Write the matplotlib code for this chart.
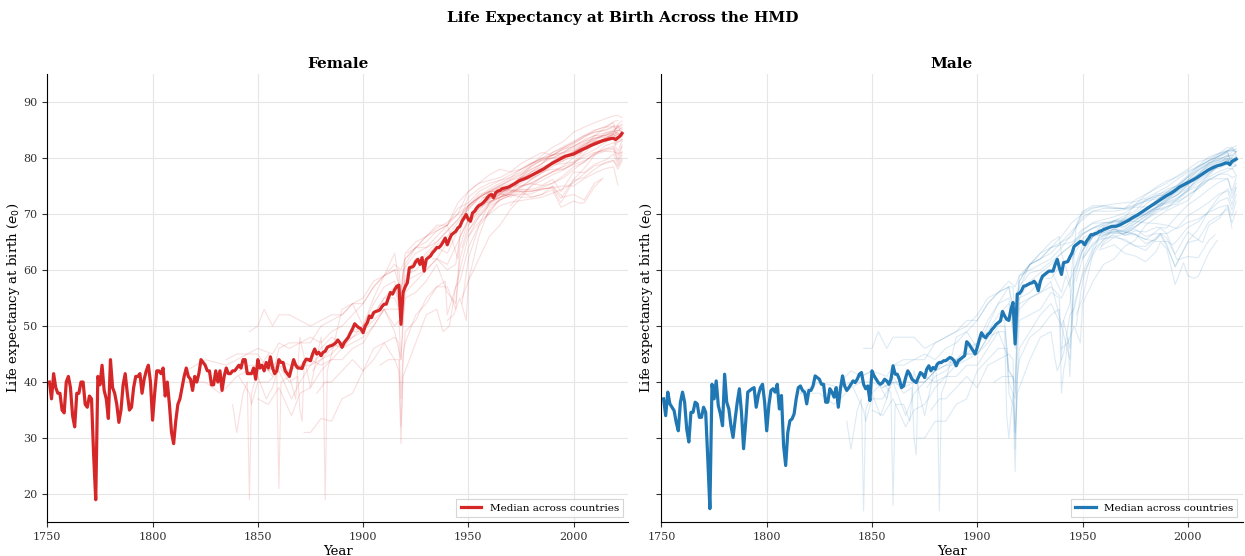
import matplotlib
matplotlib.use("Agg")
import matplotlib.pyplot as plt
import numpy as np

# --- median across countries ------------------------------------------------
female_median_years = list(range(1751, 1971)) + list(range(1972, 2019, 2)) + [2019, 2020, 2021, 2022, 2023]
female_median = [
    40, 37, 41.5, 39, 38, 38, 35, 34.5, 40, 41, 39, 34, 32, 38, 38, 40, 40, 36, 35.5, 37.5,
    37, 27, 19, 41, 39.5, 43, 38.5, 37, 33.5, 44, 39, 38, 36, 32.8, 35, 39.5, 41.5, 38, 35, 35.5,
    39, 41, 41, 41.5, 38, 40.5, 42, 43, 40, 33.2, 38, 42, 42, 41.5, 42.5, 37.5, 40, 36, 31, 29,
    33, 36, 37, 39, 41, 42.5, 41, 40.5, 38.5, 41, 40, 41.5, 44, 43.5, 43, 42, 42, 39.5, 39.5, 42,
    40, 42, 38.5, 41, 42.5, 41.5, 41.5, 42, 42, 42.5, 43, 42.5, 44, 44, 41.5, 41.5, 41.5, 42.5, 40.5, 44,
    42.5, 43, 42, 43.5, 42.5, 44.5, 42.5, 41.5, 42, 44, 43.5, 43.5, 42, 41.5, 41, 42.5, 44, 43, 42.5, 42.5,
    42.4, 43.5, 44.1, 44, 43.8, 45, 45.9, 45, 45.3, 44.7, 45.3, 45.5, 46.2, 46.4, 46.5, 46.7, 47, 47.5, 47, 46.2,
    47, 47.5, 48, 48.8, 49.5, 50.4, 50, 49.7, 49.5, 48.8, 50, 50.6, 51.8, 51.5, 52.4, 52.6, 52.7, 52.9, 53.5, 53.9,
    53.9, 55, 56, 55.7, 56.5, 57.1, 57.3, 50.3, 56, 57, 57.7, 60.4, 60.5, 60.7, 61.5, 61.9, 61, 62.2, 59.8, 61.9,
    62.2, 62.5, 63.1, 63.5, 64, 64, 64.4, 65, 65.7, 64.5, 65.5, 66.3, 66.6, 66.9, 67.5, 67.8, 68.7, 69.3, 69.9, 69,
    68.7, 70.2, 70.5, 71.1, 71.5, 71.7, 72, 72.4, 72.9, 73.3, 73.5, 72.9, 73.8, 74.1, 74.2, 74.5, 74.6, 74.7, 74.8, 75,
    75.4, 75.9, 76.2, 76.5, 76.9, 77.3, 77.7, 78.1, 78.6, 79.1, 79.5, 79.9, 80.3, 80.5, 80.7, 81.1, 81.5, 81.8, 82.2, 82.5,
    82.8, 83.1, 83.3, 83.5,
    83.5, 83.3, 83.6, 83.9, 84.4,
]

male_median_years = list(range(1751, 1961)) + list(range(1962, 2019, 2)) + [2019, 2020, 2021, 2022, 2023]
male_median = [
    37, 34, 38.2, 36.1, 35.5, 34.9, 32.8, 31.3, 36.4, 38.2, 36.4, 31.6, 29.3, 34.6, 34.6, 36.4, 36.1, 33.7, 33.7, 35.5,
    34.6, 26.3, 17.4, 39.6, 37, 40.2, 35.8, 34.3, 32.2, 41.4, 36.4, 35.2, 32.2, 30.1, 33.4, 36.4, 38.8, 34.6, 28.1, 32.8,
    38.2, 38.5, 38.8, 39, 35.5, 37.6, 39, 39.6, 36.4, 31.3, 35.8, 38.5, 38.8, 38.2, 39.6, 35.2, 37.6, 28.7, 25.1, 31,
    33.1, 33.4, 34.3, 37, 39, 39.3, 38.5, 38.2, 36.1, 38.5, 38.5, 39.3, 41.1, 40.8, 40.5, 39.6, 39.6, 36.4, 36.4, 38.8,
    38.2, 37.3, 39, 35.5, 38.8, 41.1, 39.3, 38.5, 39, 39.6, 40.2, 39.9, 40.5, 41.4, 41.7, 39.6, 38.8, 39.3, 36.7, 42,
    41.1, 40.5, 39.9, 39.6, 39.9, 40.5, 40.2, 39.6, 40.5, 42.9, 41.4, 41.4, 40.5, 39, 39.3, 40.8, 42, 41.4, 40.5, 40.2,
    39.9, 40.8, 41.7, 41.4, 40.8, 42.3, 42.9, 42, 42.6, 42.3, 43.2, 43.5, 43.5, 43.8, 43.8, 44.1, 44.4, 44.2, 43.8, 42.9,
    43.8, 44.1, 44.4, 44.7, 47.2, 46.8, 46.2, 45.6, 45, 46.2, 47.6, 48.8, 48.2, 47.9, 48.5, 48.8, 49.4, 49.8, 50.3, 50.6,
    50.9, 52.6, 51.8, 51.2, 51, 53, 54.2, 46.8, 55.7, 55.8, 56.3, 57.1, 57.2, 57.4, 57.6, 57.7, 58, 57.5, 56.3, 58,
    58.9, 59.2, 59.5, 59.8, 59.8, 59.8, 61, 61.9, 60.4, 59.2, 61.3, 61.4, 61.5, 62.3, 63, 64.2, 64.5, 64.8, 65.1, 65,
    64.5, 65.2, 65.7, 66.3, 66.3, 66.5, 66.6, 66.9, 67, 67.2,
    67.5, 67.8, 67.8, 68.1, 68.5, 68.9, 69.4, 69.8, 70.3, 70.8, 71.3, 71.8, 72.3, 72.8, 73.3, 73.7, 74.2, 74.8, 75.2, 75.6,
    76, 76.4, 76.9, 77.4, 77.9, 78.3, 78.6, 78.8, 79.1,
    79.1, 78.8, 79.4, 79.6, 79.8,
]

# --- individual countries, female (year: e0) --------------------------------
f_sweden = {1816: 42, 1825: 44, 1835: 43, 1840: 44, 1845: 45, 1850: 45, 1857: 41, 1860: 46, 1865: 47, 1870: 47, 1875: 47, 1880: 50, 1885: 51, 1890: 52, 1895: 54, 1900: 54, 1905: 57, 1910: 59, 1915: 60, 1917: 60, 1918: 56, 1919: 60, 1925: 63, 1930: 64, 1935: 66, 1940: 68, 1945: 71, 1950: 72, 1955: 74, 1960: 75, 1965: 76, 1970: 77, 1975: 78, 1980: 79, 1985: 80, 1990: 80.5, 1995: 81.6, 2000: 82, 2005: 83, 2010: 83.5, 2015: 84, 2019: 84.8, 2021: 84.9, 2023: 85}
f_france = {1816: 40, 1825: 40, 1832: 38, 1835: 39, 1840: 41, 1845: 42, 1850: 41, 1854: 37, 1857: 39, 1860: 43, 1865: 40, 1869: 41, 1870: 35, 1871: 33, 1872: 43, 1875: 44, 1880: 43, 1885: 44, 1890: 44, 1895: 46, 1900: 47, 1905: 50, 1910: 53, 1915: 50, 1917: 51, 1918: 44, 1919: 52, 1920: 55, 1925: 56, 1930: 58, 1935: 61, 1940: 56, 1944: 54, 1946: 64, 1950: 69, 1955: 72, 1960: 74, 1965: 75, 1970: 76, 1975: 77, 1980: 78, 1985: 79, 1990: 81, 1995: 82, 2000: 83, 2005: 84, 2010: 85, 2015: 85.5, 2019: 85.7, 2020: 85.2, 2021: 85.5, 2023: 85.8}
f_denmark = {1835: 44, 1840: 45, 1845: 45, 1850: 46, 1857: 45, 1860: 47, 1865: 46, 1870: 47, 1875: 48, 1880: 47, 1885: 49, 1890: 50, 1895: 52, 1900: 54, 1905: 57, 1910: 59, 1915: 61, 1918: 60, 1920: 62, 1925: 64, 1930: 64, 1935: 65, 1940: 67, 1945: 69, 1950: 71.5, 1955: 73.5, 1960: 74, 1965: 75, 1970: 76, 1975: 76.5, 1980: 77, 1985: 77.5, 1990: 78, 1995: 78, 2000: 79, 2005: 80.5, 2010: 81.5, 2015: 82.8, 2019: 83.5, 2021: 83.6, 2023: 83.8}
f_iceland = {1838: 36, 1840: 31, 1843: 38, 1845: 40, 1846: 19, 1847: 38, 1850: 42, 1855: 45, 1859: 42, 1860: 21, 1861: 40, 1865: 41, 1868: 37, 1870: 48, 1875: 39, 1880: 48, 1881: 44, 1882: 19, 1883: 42, 1885: 45, 1890: 53, 1895: 54, 1900: 50, 1905: 55, 1910: 59, 1915: 63, 1918: 55, 1920: 63, 1925: 65, 1930: 66, 1935: 67, 1940: 68, 1945: 72, 1950: 74, 1955: 75.5, 1960: 77, 1965: 78, 1970: 77.5, 1975: 79, 1980: 80, 1985: 81, 1990: 80.5, 1995: 81, 2000: 82.2, 2005: 83, 2010: 84, 2015: 84, 2019: 84.5, 2021: 85.9, 2023: 84}
f_norway = {1846: 49, 1850: 50, 1853: 53, 1857: 50, 1860: 52, 1865: 52, 1870: 51, 1875: 50, 1880: 51, 1885: 52, 1890: 52, 1895: 54, 1900: 55, 1905: 58, 1910: 59, 1915: 60, 1918: 56, 1920: 62, 1925: 64, 1930: 65, 1935: 67, 1940: 68, 1945: 70, 1950: 74, 1955: 75.5, 1960: 76, 1965: 76.5, 1970: 77.5, 1975: 78, 1980: 79.2, 1985: 79.8, 1990: 80, 1995: 80.8, 2000: 81.4, 2005: 82.5, 2010: 83.2, 2015: 84.2, 2019: 84.7, 2021: 85, 2023: 84.6}
f_belgium = {1841: 41, 1846: 38, 1847: 36, 1850: 40, 1855: 40, 1860: 42, 1866: 37, 1870: 40, 1875: 43, 1880: 44, 1885: 46, 1890: 47, 1895: 48, 1900: 49, 1905: 51, 1910: 53, 1915: 49, 1918: 44, 1920: 56, 1925: 58, 1930: 60, 1935: 62, 1940: 60, 1944: 61, 1946: 66, 1950: 69, 1955: 71.5, 1960: 73.5, 1965: 74, 1970: 74.5, 1975: 75.5, 1980: 76.8, 1985: 78, 1990: 79.5, 1995: 80.5, 2000: 81, 2005: 82, 2010: 83, 2015: 83.3, 2019: 84.3, 2020: 82.5, 2021: 83.8, 2023: 84}
f_england = {1841: 42, 1846: 43, 1850: 43, 1855: 42, 1860: 43, 1865: 42, 1870: 43, 1875: 44, 1880: 46, 1885: 48, 1890: 47, 1895: 49, 1900: 49, 1905: 52, 1910: 55, 1915: 55, 1918: 52, 1920: 59, 1925: 60, 1930: 62, 1935: 64, 1940: 63, 1945: 67, 1950: 71.5, 1955: 73, 1960: 74, 1965: 74.8, 1970: 75.5, 1975: 76.3, 1980: 77, 1985: 78, 1990: 79, 1995: 79.5, 2000: 80.3, 2005: 81.5, 2010: 82.6, 2015: 83, 2019: 83.5, 2020: 82.3, 2021: 82.9, 2023: 83.2}
f_netherlands = {1850: 37, 1855: 36, 1860: 39, 1866: 34, 1870: 38, 1875: 39, 1880: 42, 1885: 44, 1890: 46, 1895: 48, 1900: 50, 1905: 54, 1910: 57, 1915: 58, 1918: 52, 1920: 61, 1925: 64, 1930: 66, 1935: 68, 1940: 68, 1945: 62, 1947: 70, 1950: 73, 1955: 74.5, 1960: 75.5, 1965: 76, 1970: 76.5, 1975: 77.5, 1980: 79, 1985: 79.5, 1990: 80, 1995: 80.3, 2000: 80.6, 2005: 81.5, 2010: 83, 2015: 83.2, 2019: 83.6, 2021: 82.8, 2023: 83.3}
f_scotland = {1855: 42, 1860: 44, 1865: 43, 1870: 43, 1875: 43, 1880: 45, 1885: 47, 1890: 46, 1895: 47, 1900: 48, 1905: 50, 1910: 53, 1915: 53, 1918: 53, 1920: 58, 1925: 59, 1930: 60, 1935: 62, 1940: 61, 1945: 65, 1950: 69, 1955: 71, 1960: 72, 1965: 73, 1970: 74, 1975: 75, 1980: 75.5, 1985: 76.5, 1990: 77.5, 1995: 78, 2000: 78.8, 2005: 79.5, 2010: 80.6, 2015: 81.2, 2019: 81.1, 2021: 80.8, 2023: 81}
f_italy = {1872: 31, 1875: 31, 1880: 33.5, 1885: 33, 1890: 37, 1895: 38, 1900: 42, 1905: 44, 1910: 47, 1915: 44, 1917: 42, 1918: 29, 1919: 44, 1920: 49, 1925: 51, 1930: 55, 1935: 57, 1940: 57, 1944: 53, 1946: 62, 1950: 67, 1955: 70, 1960: 72, 1965: 73.5, 1970: 75, 1975: 76, 1980: 77.5, 1985: 79, 1990: 80.5, 1995: 81.5, 2000: 82.5, 2005: 83.8, 2010: 84.6, 2015: 84.9, 2019: 85.5, 2020: 84.4, 2021: 84.9, 2023: 85.4}
f_switzerland = {1876: 42, 1880: 44, 1885: 45, 1890: 47, 1895: 49, 1900: 50, 1905: 52, 1910: 55, 1915: 57, 1918: 52, 1920: 58, 1925: 61, 1930: 63, 1935: 65, 1940: 67, 1945: 69, 1950: 71.5, 1955: 73, 1960: 74.5, 1965: 75.5, 1970: 76.5, 1975: 78, 1980: 79, 1985: 80, 1990: 81, 1995: 81.8, 2000: 82.8, 2005: 84, 2010: 84.6, 2015: 85, 2019: 85.7, 2021: 85.6, 2023: 86}
f_finland = {1878: 38, 1882: 40, 1885: 40, 1890: 42, 1895: 44, 1900: 42, 1905: 46, 1910: 47, 1915: 48, 1917: 47, 1918: 37, 1919: 45, 1920: 47, 1925: 52, 1930: 54, 1935: 57, 1939: 58, 1940: 52, 1944: 57, 1946: 60, 1950: 66, 1955: 69.5, 1960: 71.5, 1965: 72.5, 1970: 73.8, 1975: 76, 1980: 77.6, 1985: 78.5, 1990: 79, 1995: 80, 2000: 81, 2005: 82.4, 2010: 83.2, 2015: 84.4, 2019: 84.8, 2021: 84.5, 2023: 84}
f_spain = {1908: 43, 1912: 44, 1917: 44, 1918: 32, 1919: 41, 1920: 42, 1925: 47, 1930: 52, 1935: 53, 1938: 49, 1941: 50, 1944: 57, 1946: 58, 1950: 64, 1955: 68, 1960: 72, 1965: 73.5, 1970: 75, 1975: 76.5, 1980: 78.5, 1985: 79.8, 1990: 80.5, 1995: 81.8, 2000: 82.7, 2005: 83.7, 2010: 84.9, 2015: 85.6, 2019: 86.3, 2020: 85.1, 2021: 86, 2023: 86.6}
f_australia = {1921: 63, 1925: 64, 1930: 66, 1935: 67.5, 1940: 68.5, 1945: 70, 1950: 71.5, 1955: 73, 1960: 74, 1965: 74, 1970: 74.5, 1975: 76.5, 1980: 78, 1985: 79, 1990: 80, 1995: 81, 2000: 82, 2005: 83.3, 2010: 84, 2015: 84.5, 2019: 85, 2021: 85.4, 2023: 85.3}
f_canada = {1921: 60, 1925: 62, 1930: 62.5, 1935: 64.5, 1940: 66, 1945: 68.5, 1950: 70.8, 1955: 72.8, 1960: 74.2, 1965: 75.2, 1970: 76.2, 1975: 77.2, 1980: 78.5, 1985: 79.6, 1990: 80.5, 1995: 80.9, 2000: 81.7, 2005: 82.7, 2010: 83.6, 2015: 84, 2019: 84.5, 2021: 84.2, 2023: 84.4}
f_usa = {1933: 62, 1935: 62, 1940: 65, 1945: 67.5, 1950: 71, 1955: 72.8, 1960: 73.2, 1965: 73.8, 1970: 74.7, 1975: 76.5, 1980: 77.5, 1985: 78.2, 1990: 78.8, 1995: 79, 2000: 79.3, 2005: 80.1, 2010: 81, 2015: 81.3, 2019: 81.6, 2021: 79.3, 2023: 81.1}
f_japan = {1947: 54, 1950: 62, 1955: 67.8, 1960: 70.2, 1965: 72.9, 1970: 74.7, 1975: 76.9, 1980: 78.8, 1985: 80.5, 1990: 81.9, 1995: 82.9, 2000: 84.6, 2005: 85.5, 2010: 86.3, 2015: 87, 2019: 87.5, 2021: 87.6, 2023: 87.2}
f_portugal = {1940: 51, 1943: 52, 1946: 55, 1949: 51, 1950: 58, 1955: 62, 1960: 66, 1965: 68, 1970: 70.8, 1975: 72.9, 1980: 75.2, 1985: 76.6, 1990: 77.5, 1995: 78.6, 2000: 80, 2005: 81.4, 2010: 82.8, 2015: 83.3, 2019: 84.1, 2021: 83.7, 2023: 84}
f_russia = {1959: 72, 1965: 73, 1970: 73.5, 1975: 73, 1980: 73, 1985: 73.5, 1990: 74.3, 1994: 71.2, 2000: 72.3, 2003: 71.9, 2005: 72, 2010: 74.9, 2014: 76.4}
f_ukraine = {1959: 72.5, 1965: 73.5, 1970: 74, 1975: 74, 1980: 73, 1985: 73.5, 1990: 75, 1995: 73, 2000: 73.5, 2005: 72.5, 2010: 75.5, 2013: 76.2}
f_hungary = {1950: 66, 1955: 68.5, 1960: 70, 1965: 71.5, 1970: 72.1, 1975: 72.4, 1980: 72.7, 1985: 73, 1990: 73.7, 1995: 74.5, 2000: 75.6, 2005: 77.2, 2010: 78.6, 2015: 79, 2019: 79.5, 2021: 78.5, 2023: 79.8}
f_bulgaria = {1947: 55, 1950: 58, 1955: 66, 1960: 71, 1965: 72.5, 1970: 73.3, 1975: 73.5, 1980: 73.6, 1985: 74.5, 1990: 74.7, 1995: 75, 2000: 75, 2005: 76.3, 2010: 77.3, 2015: 78.1, 2019: 78.4, 2021: 75.2}
f_taiwan = {1970: 71.5, 1975: 73.5, 1980: 75, 1985: 76, 1990: 77, 1995: 77.8, 2000: 79, 2005: 80.8, 2010: 82.5, 2015: 83.6, 2019: 84.2, 2021: 84.3, 2023: 83.8}
f_korea = {2003: 80.8, 2005: 81.9, 2010: 84, 2015: 85.4, 2019: 86.5, 2021: 86.7}
f_latvia = {1959: 72.5, 1965: 74, 1970: 74.3, 1975: 74, 1980: 74, 1985: 74.5, 1990: 74.6, 1994: 72, 2000: 76, 2005: 76.5, 2010: 78, 2015: 79.2, 2019: 79.6, 2021: 78, 2023: 79.5}
f_czechia = {1950: 68, 1955: 71, 1960: 73.3, 1965: 73.7, 1970: 73, 1975: 74, 1980: 74, 1985: 74.7, 1990: 75.5, 1995: 76.8, 2000: 78.4, 2005: 79.2, 2010: 80.9, 2015: 81.6, 2019: 82.1, 2021: 80.5, 2023: 82.3}
f_poland = {1958: 69.5, 1960: 70.5, 1965: 72.5, 1970: 73.3, 1975: 74.4, 1980: 74.4, 1985: 75, 1990: 75.5, 1995: 76.4, 2000: 77.9, 2005: 79.3, 2010: 80.7, 2015: 81.6, 2019: 81.8, 2021: 79.7, 2023: 82}
f_austria = {1947: 64, 1950: 68, 1955: 70.5, 1960: 72.8, 1965: 73.4, 1970: 73.5, 1975: 75, 1980: 76.1, 1985: 77.4, 1990: 79, 1995: 80.1, 2000: 81.2, 2005: 82.3, 2010: 83.5, 2015: 83.7, 2019: 84.2, 2021: 83.8, 2023: 84.2}
f_newzealand = {1948: 70, 1950: 71.3, 1955: 73, 1960: 73.9, 1965: 74.3, 1970: 74.8, 1975: 76, 1980: 76.3, 1985: 77.3, 1990: 78.5, 1995: 79.5, 2000: 81, 2005: 82.1, 2010: 82.8, 2015: 83.5, 2019: 83.7, 2021: 84.3}
f_lithuania = {1959: 73.5, 1965: 74.7, 1970: 75, 1975: 75, 1980: 75.4, 1985: 75.1, 1990: 76.2, 1994: 74, 2000: 77.5, 2005: 77.4, 2010: 78.9, 2015: 79.6, 2019: 80.7, 2021: 78.8, 2023: 80.5}
f_ireland = {1950: 67, 1955: 69.5, 1960: 71.8, 1965: 73, 1970: 73.8, 1975: 74.8, 1980: 75.6, 1985: 76.6, 1990: 77.6, 1995: 78.4, 2000: 79.2, 2005: 81.5, 2010: 82.8, 2015: 83.5, 2019: 84.4, 2021: 84.6}
f_germany = {1956: 71.5, 1960: 72.3, 1965: 73, 1970: 73.6, 1975: 74.7, 1980: 76.3, 1985: 77.7, 1990: 78.9, 1995: 79.9, 2000: 81.2, 2005: 82, 2010: 82.8, 2015: 83, 2019: 83.6, 2021: 83.3, 2023: 83.4}
f_estonia = {1959: 72.3, 1965: 73.8, 1970: 74.2, 1975: 74.3, 1980: 74.2, 1985: 74.3, 1990: 74.9, 1994: 72.8, 2000: 76.2, 2005: 78.1, 2010: 80.5, 2015: 82.2, 2019: 82.7, 2021: 81.2, 2023: 83}

# --- individual countries, male (year: e0) ----------------------------------
m_sweden = {1816: 38, 1825: 40, 1835: 39, 1840: 40, 1845: 41, 1850: 42, 1857: 37, 1860: 43, 1865: 44, 1870: 44, 1875: 44, 1880: 47, 1885: 48, 1890: 49, 1895: 51, 1900: 51, 1905: 54, 1910: 56, 1915: 57, 1917: 57, 1918: 50, 1919: 56, 1925: 61, 1930: 62, 1935: 64, 1940: 66, 1945: 68.5, 1950: 70, 1955: 71, 1960: 71.5, 1965: 71.8, 1970: 72, 1975: 72.2, 1980: 72.8, 1985: 73.8, 1990: 74.8, 1995: 76.2, 2000: 77.4, 2005: 78.4, 2010: 79.5, 2015: 80.4, 2019: 81.3, 2021: 81.2, 2023: 81.7}
m_france = {1816: 38, 1825: 38, 1832: 36, 1835: 37, 1840: 39, 1845: 40, 1850: 38, 1854: 34, 1857: 37, 1860: 41, 1865: 38, 1869: 39, 1870: 30, 1871: 27, 1872: 41, 1875: 41, 1880: 40, 1885: 41, 1890: 41, 1895: 43, 1900: 43, 1905: 46, 1910: 49, 1913: 49, 1914: 34, 1915: 30, 1917: 38, 1918: 31, 1919: 44, 1920: 51, 1925: 52, 1930: 53, 1935: 56, 1939: 55, 1940: 44, 1941: 51, 1944: 46, 1946: 59, 1950: 63.5, 1955: 66, 1960: 67, 1965: 68, 1970: 68.6, 1975: 69.2, 1980: 70.3, 1985: 71.3, 1990: 72.8, 1995: 73.8, 2000: 75.3, 2005: 76.8, 2010: 78.2, 2015: 79.3, 2019: 79.9, 2020: 79.2, 2021: 79.5, 2023: 80.2}
m_denmark = {1835: 40, 1840: 42, 1845: 41, 1850: 42, 1857: 41, 1860: 43, 1865: 43, 1870: 44, 1875: 45, 1880: 44, 1885: 46, 1890: 47, 1895: 49, 1900: 51, 1905: 54, 1910: 56, 1915: 58, 1918: 57, 1920: 59, 1925: 61, 1930: 62, 1935: 63, 1940: 65, 1945: 67, 1950: 69, 1955: 70.5, 1960: 70.5, 1965: 70.5, 1970: 70.8, 1975: 71.2, 1980: 71.3, 1985: 71.6, 1990: 72, 1995: 72.6, 2000: 74.5, 2005: 76, 2010: 77.2, 2015: 78.8, 2019: 79.6, 2021: 79.6, 2023: 80}
m_iceland = {1838: 33, 1840: 28, 1843: 35, 1845: 37, 1846: 17, 1847: 35, 1850: 38, 1855: 40, 1859: 38, 1860: 18, 1861: 36, 1865: 36, 1868: 33, 1870: 42, 1875: 34, 1880: 43, 1881: 40, 1882: 17, 1883: 38, 1885: 40, 1890: 48, 1895: 49, 1900: 46, 1905: 50, 1910: 54, 1915: 57, 1918: 52, 1920: 59, 1925: 60, 1930: 61, 1935: 62, 1940: 64, 1945: 66.5, 1950: 69.5, 1955: 70.5, 1960: 71, 1965: 71, 1970: 71, 1975: 72.5, 1980: 73.5, 1985: 74.5, 1990: 75.5, 1995: 76.8, 2000: 78, 2005: 79.3, 2010: 79.9, 2015: 80.8, 2019: 81.3, 2021: 82, 2023: 80.5}
m_norway = {1846: 46, 1850: 46, 1853: 49, 1857: 46, 1860: 48, 1865: 48, 1870: 48, 1875: 46, 1880: 47, 1885: 48, 1890: 49, 1895: 50, 1900: 52, 1905: 55, 1910: 56, 1915: 57, 1918: 50, 1920: 58, 1925: 61, 1930: 62, 1935: 64, 1940: 65, 1945: 66, 1950: 70.3, 1955: 71.2, 1960: 71.3, 1965: 71, 1970: 71, 1975: 71.7, 1980: 72.3, 1985: 72.7, 1990: 73.4, 1995: 74.9, 2000: 76, 2005: 77.7, 2010: 78.9, 2015: 80.5, 2019: 81.2, 2021: 81.6, 2023: 81.4}
m_belgium = {1841: 39, 1846: 35, 1847: 33, 1850: 37, 1855: 37, 1860: 40, 1866: 34, 1870: 38, 1875: 40, 1880: 42, 1885: 43, 1890: 44, 1895: 45, 1900: 45, 1905: 48, 1910: 49, 1914: 45, 1915: 40, 1918: 37, 1919: 48, 1920: 53, 1925: 55, 1930: 56, 1935: 58, 1940: 50, 1944: 54, 1946: 60, 1950: 63.5, 1955: 66, 1960: 67.5, 1965: 67.8, 1970: 67.8, 1975: 68.8, 1980: 70, 1985: 71.2, 1990: 72.7, 1995: 73.4, 2000: 74.6, 2005: 76.2, 2010: 77.4, 2015: 78.7, 2019: 79.8, 2020: 78.5, 2021: 79.2, 2023: 80}
m_england = {1841: 40, 1846: 40, 1850: 40, 1855: 39, 1860: 40, 1865: 39, 1870: 40, 1875: 40, 1880: 42, 1885: 44, 1890: 43, 1895: 45, 1900: 45, 1905: 48, 1910: 51, 1913: 51, 1915: 42, 1917: 41, 1918: 38, 1919: 50, 1920: 55, 1925: 56, 1930: 58, 1935: 60, 1940: 56, 1942: 59, 1944: 57, 1946: 64, 1950: 66.5, 1955: 67.5, 1960: 68.3, 1965: 68.7, 1970: 69, 1975: 69.6, 1980: 70.8, 1985: 71.8, 1990: 73, 1995: 74, 2000: 75.6, 2005: 77.1, 2010: 78.6, 2015: 79.3, 2019: 79.8, 2020: 78.6, 2021: 79.1, 2023: 79.4}
m_netherlands = {1850: 35, 1855: 34, 1860: 37, 1866: 32, 1870: 35, 1875: 36, 1880: 39, 1885: 41, 1890: 43, 1895: 45, 1900: 47, 1905: 51, 1910: 54, 1915: 55, 1918: 48, 1920: 58, 1925: 61, 1930: 63, 1935: 65, 1939: 66, 1940: 63, 1944: 58, 1945: 50, 1946: 63, 1947: 68, 1950: 70.5, 1955: 71.5, 1960: 71.5, 1965: 71.2, 1970: 70.9, 1975: 71.5, 1980: 72.6, 1985: 73, 1990: 73.8, 1995: 74.5, 2000: 75.5, 2005: 77.2, 2010: 78.8, 2015: 79.8, 2019: 80.5, 2021: 79.8, 2023: 80.4}
m_scotland = {1855: 39, 1860: 40, 1865: 40, 1870: 40, 1875: 40, 1880: 42, 1885: 43, 1890: 43, 1895: 44, 1900: 45, 1905: 47, 1910: 50, 1913: 50, 1915: 42, 1918: 40, 1919: 49, 1920: 54, 1925: 55, 1930: 56, 1935: 57, 1940: 55, 1945: 59, 1950: 64.5, 1955: 66, 1960: 66.3, 1965: 66.8, 1970: 67, 1975: 67.8, 1980: 69, 1985: 70.2, 1990: 71.3, 1995: 72.2, 2000: 73.2, 2005: 74.6, 2010: 76.1, 2015: 77.1, 2019: 77.1, 2021: 76.5, 2023: 76.8}
m_italy = {1872: 30, 1875: 30, 1880: 33, 1885: 33, 1890: 36, 1895: 37, 1900: 42, 1905: 44, 1910: 46, 1914: 46, 1915: 38, 1917: 36, 1918: 24, 1919: 40, 1920: 46, 1925: 49, 1930: 52, 1935: 54, 1940: 50, 1942: 47, 1944: 44, 1946: 58, 1950: 63.5, 1955: 66, 1960: 67.2, 1965: 68, 1970: 69, 1975: 69.8, 1980: 70.6, 1985: 72.4, 1990: 73.8, 1995: 74.8, 2000: 76.6, 2005: 78.1, 2010: 79.5, 2015: 80.3, 2019: 81.1, 2020: 79.7, 2021: 80.1, 2023: 81.1}
m_switzerland = {1876: 39, 1880: 41, 1885: 42, 1890: 44, 1895: 46, 1900: 47, 1905: 49, 1910: 52, 1915: 54, 1918: 46, 1920: 55, 1925: 58, 1930: 59.5, 1935: 61, 1940: 63, 1945: 64.5, 1950: 67, 1955: 68.5, 1960: 69, 1965: 69.5, 1970: 70.2, 1975: 71.4, 1980: 72.3, 1985: 73.5, 1990: 74, 1995: 75.2, 2000: 76.9, 2005: 78.6, 2010: 80.2, 2015: 80.9, 2019: 81.9, 2021: 81.7, 2023: 82.2}
m_finland = {1878: 35, 1882: 37, 1885: 37, 1890: 39, 1895: 41, 1900: 39, 1905: 43, 1910: 44, 1915: 45, 1917: 44, 1918: 28, 1919: 41, 1920: 44, 1925: 48, 1930: 49.5, 1935: 52, 1939: 53, 1940: 38, 1941: 42, 1942: 44, 1943: 48, 1944: 41, 1945: 50, 1946: 54, 1950: 59, 1955: 62.8, 1960: 65.5, 1965: 65.9, 1970: 66.5, 1975: 67.6, 1980: 69.2, 1985: 70.8, 1990: 70.9, 1995: 72.8, 2000: 74.2, 2005: 75.6, 2010: 76.9, 2015: 78.7, 2019: 79.3, 2021: 79.2, 2023: 78.6}
m_spain = {1908: 40, 1912: 41, 1917: 41, 1918: 30, 1919: 38, 1920: 39, 1925: 44, 1930: 48, 1935: 49, 1937: 44, 1938: 42, 1941: 45, 1944: 52, 1946: 53, 1950: 59.5, 1955: 64, 1960: 67.4, 1965: 68.8, 1970: 69.7, 1975: 70.5, 1980: 72.5, 1985: 73.3, 1990: 73.4, 1995: 74.5, 2000: 75.9, 2005: 77.1, 2010: 79.1, 2015: 80.1, 2019: 81, 2020: 79.6, 2021: 80.3, 2023: 81.2}
m_australia = {1921: 59, 1925: 61, 1930: 63, 1935: 64, 1940: 64.5, 1945: 65, 1950: 66.5, 1955: 67.5, 1960: 67.9, 1965: 67.7, 1970: 67.6, 1975: 69.5, 1980: 71.1, 1985: 72.4, 1990: 73.9, 1995: 75.1, 2000: 76.6, 2005: 78.5, 2010: 79.5, 2015: 80.4, 2019: 81.2, 2021: 81.3, 2023: 81.1}
m_canada = {1921: 57.5, 1925: 59.5, 1930: 60, 1935: 61.5, 1940: 63, 1945: 64.5, 1950: 66.3, 1955: 67.5, 1960: 68.4, 1965: 68.8, 1970: 69.3, 1975: 70.1, 1980: 71.7, 1985: 73.1, 1990: 74.4, 1995: 75, 2000: 76.5, 2005: 77.8, 2010: 79.1, 2015: 79.6, 2019: 80, 2021: 79.4, 2023: 79.5}
m_usa = {1933: 58.5, 1935: 58.5, 1940: 61, 1945: 62, 1950: 65.6, 1955: 66.7, 1960: 66.6, 1965: 66.8, 1970: 67.1, 1975: 68.8, 1980: 70, 1985: 71.2, 1990: 71.8, 1995: 72.4, 2000: 74.1, 2005: 75, 2010: 76.2, 2015: 76.3, 2019: 76.3, 2021: 73.5, 2023: 75.5}
m_japan = {1947: 50, 1950: 58, 1955: 63.6, 1960: 65.3, 1965: 67.7, 1970: 69.3, 1975: 71.7, 1980: 73.4, 1985: 74.8, 1990: 75.9, 1995: 76.6, 2000: 77.7, 2005: 78.5, 2010: 79.6, 2015: 80.8, 2019: 81.4, 2021: 81.5, 2023: 81.1}
m_portugal = {1940: 46, 1943: 47, 1946: 50, 1949: 47, 1950: 54, 1955: 58, 1960: 61, 1965: 62, 1970: 64.2, 1975: 65.3, 1980: 68, 1985: 69.4, 1990: 70.6, 1995: 71.5, 2000: 72.4, 2005: 74.9, 2010: 76.6, 2015: 77.6, 2019: 78.2, 2021: 78, 2023: 78.9}
m_russia = {1959: 63.7, 1965: 64.5, 1970: 63, 1975: 62.5, 1980: 61.5, 1985: 63.3, 1987: 65, 1990: 63.8, 1994: 57.4, 1998: 61.3, 2000: 59, 2003: 58.5, 2005: 58.9, 2010: 63.1, 2014: 65.3}
m_ukraine = {1959: 66, 1965: 67.2, 1970: 66.8, 1975: 66.4, 1980: 64.7, 1985: 65.5, 1987: 66.5, 1990: 65.7, 1995: 61.8, 2000: 62.4, 2005: 62.2, 2010: 65.3, 2013: 66.3}
m_hungary = {1950: 62, 1955: 64.5, 1960: 65.9, 1965: 67, 1970: 66.3, 1975: 66.3, 1980: 65.5, 1985: 65.1, 1990: 65.1, 1993: 64.5, 1995: 65.3, 2000: 67.6, 2005: 68.6, 2010: 70.5, 2015: 72.3, 2019: 72.9, 2021: 70.7, 2023: 73.5}
m_bulgaria = {1947: 52, 1950: 55, 1955: 63, 1960: 67.8, 1965: 68.8, 1970: 68.6, 1975: 68.7, 1980: 68.4, 1985: 68.3, 1990: 68, 1995: 67.4, 2000: 68.5, 2005: 69.1, 2010: 70.3, 2015: 71.2, 2019: 71.6, 2021: 67.5}
m_taiwan = {1970: 66.7, 1975: 68.3, 1980: 69.6, 1985: 70.8, 1990: 71.3, 1995: 71.8, 2000: 73.5, 2005: 74.5, 2010: 76.1, 2015: 77.1, 2019: 77.7, 2021: 78.2, 2023: 76.9}
m_korea = {2003: 73.9, 2005: 74.9, 2010: 77.2, 2015: 79, 2019: 80.3, 2021: 80.6}
m_latvia = {1959: 65.5, 1965: 66.2, 1970: 65.2, 1975: 64.3, 1980: 63.5, 1987: 66.3, 1990: 64.2, 1994: 60.7, 2000: 64.9, 2005: 65.4, 2010: 68.6, 2015: 69.7, 2019: 70.9, 2021: 68.4, 2023: 70.5}
m_czechia = {1950: 62.3, 1955: 66, 1960: 67.6, 1965: 67.4, 1970: 66.1, 1975: 67, 1980: 66.8, 1985: 67.6, 1990: 67.5, 1995: 69.7, 2000: 71.6, 2005: 72.9, 2010: 74.4, 2015: 75.7, 2019: 76.3, 2021: 74.1, 2023: 76.5}
m_poland = {1958: 63.5, 1960: 64.9, 1965: 66.6, 1970: 66.6, 1975: 67.3, 1980: 66, 1985: 66.5, 1990: 66.5, 1995: 67.6, 2000: 69.7, 2005: 70.8, 2010: 72.1, 2015: 73.6, 2019: 74.1, 2021: 71.6, 2023: 74.7}
m_austria = {1947: 58, 1950: 62, 1955: 64.8, 1960: 66.2, 1965: 66.6, 1970: 66.5, 1975: 67.7, 1980: 69, 1985: 70.5, 1990: 72.4, 1995: 73.4, 2000: 75.2, 2005: 76.7, 2010: 77.9, 2015: 78.8, 2019: 79.6, 2021: 78.9, 2023: 79.5}
m_newzealand = {1948: 66.5, 1950: 67.3, 1955: 68.3, 1960: 68.5, 1965: 68.4, 1970: 68.6, 1975: 69.4, 1980: 70.1, 1985: 71.1, 1990: 72.5, 1995: 74.3, 2000: 76.1, 2005: 77.9, 2010: 79.1, 2015: 79.9, 2019: 80.3, 2021: 80.5}
m_lithuania = {1959: 66.5, 1965: 67.3, 1970: 66.8, 1975: 66.4, 1980: 65.4, 1987: 67.5, 1990: 66.5, 1994: 62.8, 2000: 66.8, 2005: 65.4, 2007: 64.9, 2010: 68, 2015: 69.2, 2019: 71.5, 2021: 69.6, 2023: 72.3}
m_ireland = {1950: 64.5, 1955: 66.5, 1960: 68.1, 1965: 68.6, 1970: 68.8, 1975: 69.1, 1980: 69.9, 1985: 71, 1990: 72.1, 1995: 72.9, 2000: 74.1, 2005: 76.9, 2010: 78.5, 2015: 79.6, 2019: 80.6, 2021: 81}
m_germany = {1956: 66.5, 1960: 66.8, 1965: 67.3, 1970: 67.3, 1975: 68.3, 1980: 69.6, 1985: 71.1, 1990: 72.3, 1995: 73.4, 2000: 75.1, 2005: 76.6, 2010: 77.9, 2015: 78.2, 2019: 78.9, 2021: 78.5, 2023: 78.6}
m_estonia = {1959: 64.3, 1965: 65.8, 1970: 65.5, 1975: 64.3, 1980: 64.2, 1987: 66.5, 1990: 64.6, 1994: 60.5, 2000: 65.1, 2005: 67.3, 2010: 70.6, 2015: 73.2, 2019: 74.5, 2021: 72.8, 2023: 74.8}

female_countries = [f_sweden, f_france, f_denmark, f_iceland, f_norway, f_belgium, f_england,
                    f_netherlands, f_scotland, f_italy, f_switzerland, f_finland, f_spain,
                    f_australia, f_canada, f_usa, f_japan, f_portugal, f_russia, f_ukraine,
                    f_hungary, f_bulgaria, f_taiwan, f_korea, f_latvia, f_czechia, f_poland,
                    f_austria, f_newzealand, f_lithuania, f_ireland, f_germany, f_estonia]
male_countries = [m_sweden, m_france, m_denmark, m_iceland, m_norway, m_belgium, m_england,
                  m_netherlands, m_scotland, m_italy, m_switzerland, m_finland, m_spain,
                  m_australia, m_canada, m_usa, m_japan, m_portugal, m_russia, m_ukraine,
                  m_hungary, m_bulgaria, m_taiwan, m_korea, m_latvia, m_czechia, m_poland,
                  m_austria, m_newzealand, m_lithuania, m_ireland, m_germany, m_estonia]

RED = "#d62728"
BLUE = "#1f77b4"

plt.rcParams['font.family'] = 'serif'
plt.rcParams['font.serif'] = ['DejaVu Serif']

fig, axes = plt.subplots(1, 2, figsize=(12.45, 5.56), dpi=100, sharey=True)
fig.subplots_adjust(left=0.038, right=0.998, bottom=0.061, top=0.867, wspace=0.057)

panels = [
    (axes[0], "Female", female_countries, female_median_years, female_median, RED),
    (axes[1], "Male", male_countries, male_median_years, male_median, BLUE),
]

for ax, title, countries, med_years, med_vals, color in panels:
    for c in countries:
        yrs = sorted(c)
        ax.plot(yrs, [c[y] for y in yrs], color=color, lw=0.8, alpha=0.15, zorder=2)
    ax.plot(med_years, med_vals, color=color, lw=2.3, label="Median across countries", zorder=3)

    ax.set_title(title, fontsize=11, fontweight='bold', pad=4)
    ax.set_xlabel("Year", fontsize=9.5, labelpad=2)
    ax.set_ylabel("Life expectancy at birth ($e_0$)", fontsize=9.5, labelpad=1)
    ax.set_xlim(1750, 2026)
    ax.set_ylim(15, 95)
    ax.set_xticks([1750, 1800, 1850, 1900, 1950, 2000])
    ax.set_yticks([20, 30, 40, 50, 60, 70, 80, 90])
    ax.tick_params(labelsize=8, colors='#333333', length=3.5)
    ax.grid(True, color='#e6e6e6', lw=0.8)
    ax.set_axisbelow(True)
    for s in ['top', 'right']:
        ax.spines[s].set_visible(False)
    leg = ax.legend(loc='lower right', fontsize=7.5, frameon=True, fancybox=False,
                    borderpad=0.4, handlelength=2.0)
    leg.get_frame().set_edgecolor('#cccccc')
    leg.get_frame().set_linewidth(0.8)

fig.suptitle("Life Expectancy at Birth Across the HMD", fontsize=11, fontweight='bold', y=0.98)

fig.savefig("out.png", dpi=100)
